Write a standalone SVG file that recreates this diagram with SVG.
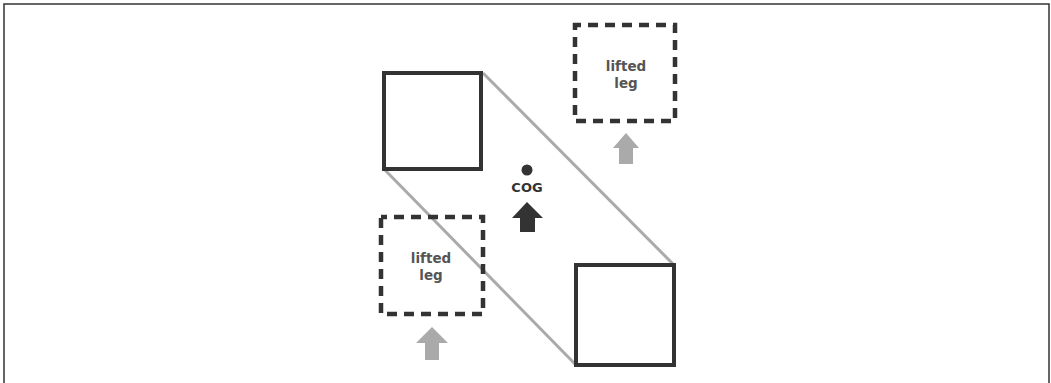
<svg xmlns="http://www.w3.org/2000/svg" width="1051" height="383" viewBox="0 0 1051 383">
<defs>
<style>
.frame{fill:none;stroke:#333;stroke-width:1.5}
.solid{fill:#fff;stroke:#333;stroke-width:4}
.dash{fill:none;stroke:#333;stroke-width:4.5;stroke-dasharray:10 7;stroke-dashoffset:4}
.link{stroke:#aaa;stroke-width:3;fill:none}
.lbl{font-family:"DejaVu Sans",sans-serif;font-weight:bold;font-size:13.5px;fill:#555;text-anchor:middle}
.cog{font-family:"DejaVu Sans",sans-serif;font-weight:bold;font-size:13px;fill:#333;text-anchor:middle}
.garrow{fill:#aaa}
.barrow{fill:#333}
</style>
</defs>
<rect width="1051" height="383" fill="#fff"/>
<path class="frame" d="M4,390 V4 H1049 V390"/>
<g id="connectors">
<line class="link" x1="483" y1="73" x2="674" y2="265"/>
<line class="link" x1="384" y1="169" x2="576" y2="365"/>
</g>
<g id="leg-top-left"><rect class="solid" x="384" y="73" width="97" height="96"/></g>
<g id="leg-bottom-right"><rect class="solid" x="576" y="265" width="98" height="100"/></g>
<g id="lifted-top">
<rect class="dash" x="575" y="25" width="100" height="96"/>
<text class="lbl" x="626" y="71">lifted</text>
<text class="lbl" x="626" y="88">leg</text>
</g>
<g id="lifted-bottom">
<rect class="dash" x="381" y="217" width="102" height="97"/>
<text class="lbl" x="431" y="263">lifted</text>
<text class="lbl" x="431" y="280">leg</text>
</g>
<g id="arrow-top"><polygon class="garrow" points="626,133 639,148 633,148 633,164 619,164 619,148 613,148"/></g>
<g id="arrow-bottom"><polygon class="garrow" points="432,327 448,343 439,343 439,360 425,360 425,343 416,343"/></g>
<g id="cog">
<circle cx="527" cy="170" r="5.5" fill="#333"/>
<text class="cog" x="527" y="192">COG</text>
<polygon class="barrow" points="527,202 543,218 535,218 535,232 520,232 520,218 512,218"/>
</g>
</svg>
